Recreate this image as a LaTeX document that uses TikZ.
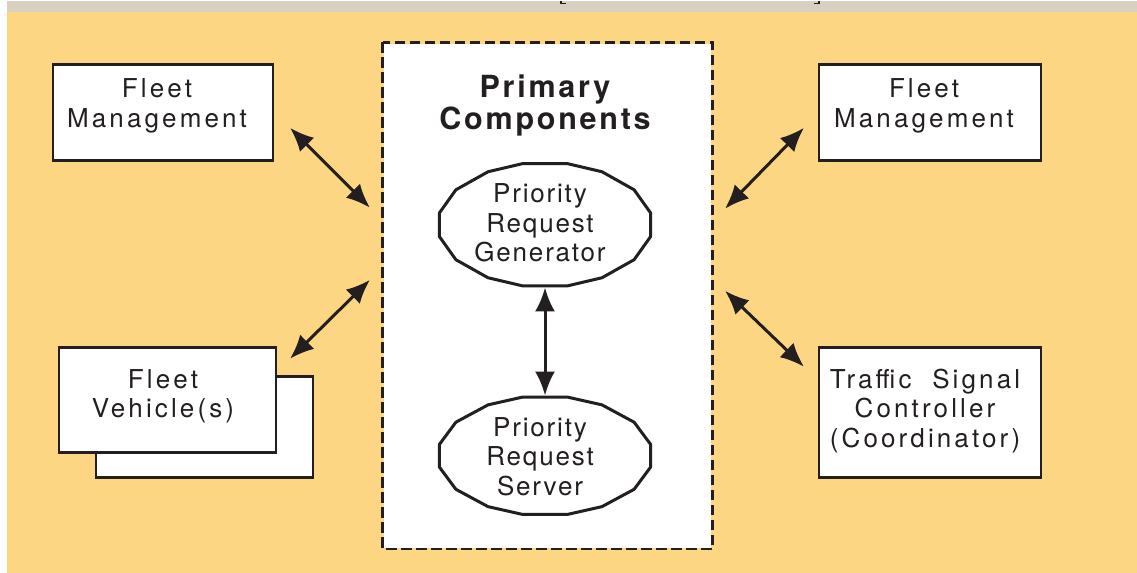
\documentclass[tikz,border=0pt]{standalone}
\usepackage{fontspec}
\setmainfont{TeX Gyre Heros}[LetterSpace=12]
\newfontfamily\titlefont{TeX Gyre Heros}[LetterSpace=9]
\newfontfamily\ovalfont{TeX Gyre Heros}[LetterSpace=7]
\usetikzlibrary{arrows.meta,shapes.geometric,calc}
\definecolor{panel}{HTML}{FCD683}
\definecolor{topband}{HTML}{D9D0C4}
\definecolor{ink}{HTML}{231F20}

\tikzset{
  box/.style={draw=ink, line width=2.6pt, fill=white, rectangle, inner sep=0pt},
  txt/.style={text=ink, align=center, inner sep=0pt,
              font=\fontsize{26}{29.5}\selectfont},
  ovaltxt/.style={txt, font=\ovalfont\fontsize{26}{29.5}\selectfont},
  ttl/.style={text=ink, align=center, inner sep=0pt,
              font=\titlefont\bfseries\fontsize{30.5}{32}\selectfont},
  oval/.style={ellipse, minimum width=215pt, minimum height=#1, inner sep=0pt},
  link/.style={draw=ink, line width=3pt,
               {Latex[length=24pt,width=20pt]}-{Latex[length=24pt,width=20pt]}},
  ovalline/.style={draw=ink, line width=3pt, line join=round},
}

\begin{document}
\begin{tikzpicture}[x=1pt,y=-1pt]
  % page background: white margin, grey band, coloured panel
  \fill[white] (0,0) rectangle (1137,572);
  \fill[topband] (7,0) rectangle (1137,11);
  \fill[panel] (7,11) rectangle (1137,572);
  \draw[ink, line width=1.5pt] (561,0) |- (566,3);
  \draw[ink, line width=1.5pt] (819,0) |- (814,3);

  % central group of primary components
  \node[box, draw=none, minimum width=327pt, minimum height=504pt] (core) at (547.5,295) {};
  \draw[ink, line width=2.6pt, dash pattern=on 10.5pt off 4.5pt]
    (core.north west) rectangle (core.south east);
  \node[ttl] (title) at (545,105) {Primary\\Components};

  % request generator and server (faceted ovals)
  \node[oval=125pt] (gen) at (545,224) {};
  \draw[ovalline] plot[samples at={11,34,58,78,102,122,146,169,191,214,238,258,282,302,326,349}]
    ({545+107.5*cos(\x)},{224+62.5*sin(\x)}) -- cycle;
  \node[ovaltxt] (gent) at (540,222.5) {Priority\\Request\\Generator};

  \node[oval=120pt] (srv) at (545,455) {};
  \draw[ovalline] plot[samples at={11,34,58,78,102,122,146,169,191,214,238,258,282,302,326,349}]
    ({545+107.5*cos(\x)},{455+60*sin(\x)}) -- cycle;
  \node[ovaltxt] (srvt) at (540,456) {Priority\\Request\\Server};

  \draw[link] (gen.south) -- (srv.north);

  % outside systems
  \node[box, minimum width=220pt, minimum height=96pt] (fmL) at (163,112) {};
  \node[txt] (fmLt) at (157,105) {Fleet\\Management};

  \node[box, minimum width=217pt, minimum height=101pt] (fvB) at (204.5,426.5) {};
  \node[box, minimum width=217pt, minimum height=105pt] (fvF) at (167.5,399.5) {};
  \node[txt] (fvt) at (163,395.5) {Fleet\\Vehicle(s)};

  \node[box, minimum width=222pt, minimum height=96pt] (fmR) at (930,112) {};
  \node[txt] (fmRt) at (924,105) {Fleet\\Management};

  \node[box, minimum width=222pt, minimum height=130pt] (tsc) at (930,412) {};
  \node[txt] (tsct) at (925,410) {Traffic\ \ Signal\\Controller\\(Coordinator)};

  % links between the outside systems and the core
  \coordinate (l1a) at (290,127); \coordinate (l1b) at (370,207);
  \coordinate (l2a) at (290,358); \coordinate (l2b) at (370,279);
  \coordinate (r1a) at (804,127); \coordinate (r1b) at (725,208);
  \coordinate (r2a) at (804,366); \coordinate (r2b) at (725,290);
  \draw[link] (l1a) -- (l1b);
  \draw[link] (l2a) -- (l2b);
  \draw[link] (r1a) -- (r1b);
  \draw[link] (r2a) -- (r2b);
\end{tikzpicture}
\end{document}
